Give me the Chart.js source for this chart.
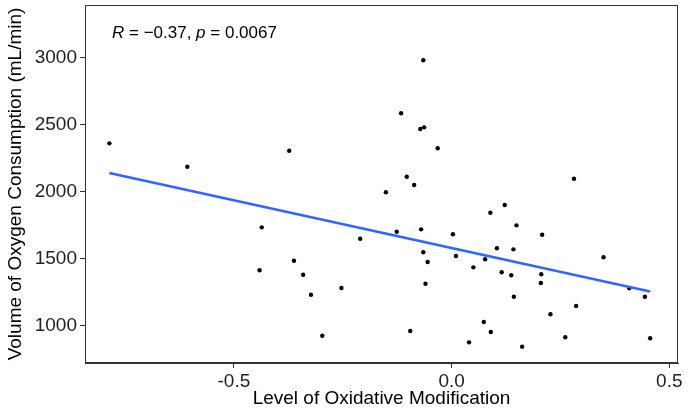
<!DOCTYPE html>
<html>
<head>
<meta charset="utf-8">
<script src="https://cdn.jsdelivr.net/npm/chart.js@4.4.1/dist/chart.umd.min.js"></script>
<style>
html,body{margin:0;padding:0;background:#fff;}
#wrap{width:693px;height:414px;position:relative;}
</style>
</head>
<body>
<div id="wrap"><canvas id="c" width="693" height="414"></canvas></div>
<script>
const oxidativeLevel = [
  -0.786, -0.607, -0.373, -0.065, -0.116, -0.072, -0.063, -0.032, -0.103, -0.086,
  -0.151, 0.281, 0.122, -0.436, -0.441, -0.362, -0.341, -0.323, -0.253, -0.297,
  -0.210, -0.126, -0.070, 0.003, 0.089, 0.149, 0.208, -0.065, -0.055, -0.060,
  0.010, 0.050, 0.077, 0.104, 0.142, 0.115, 0.137, 0.143, 0.206, 0.205,
  0.227, 0.286, 0.349, 0.408, 0.444, 0.456, 0.261, 0.162, 0.090, 0.074,
  0.040, -0.095
];
const oxygenConsumption = [
  2359, 2185, 2304, 2978, 2583, 2466, 2478, 2322, 2110, 2048,
  1994, 2095, 1899, 1733, 1413, 1484, 1380, 1231, 1281, 925,
  1648, 1700, 1718, 1681, 1842, 1748, 1678, 1547, 1475, 1313,
  1519, 1435, 1495, 1577, 1569, 1398, 1376, 1216, 1383, 1318,
  1085, 1147, 1510, 1279, 1216, 906, 914, 844, 953, 1028,
  876, 960
];
const xTicks = [-0.5, 0.0, 0.5];
const yTicks = [1000, 1500, 2000, 2500, 3000];
const xTitle = 'Level of Oxidative Modification';
const yTitle = 'Volume of Oxygen Consumption (mL/min)';
const corLabel = { r: '\u22120.37', p: '0.0067' };

// least-squares fit from the data
const n = oxidativeLevel.length;
const mx = oxidativeLevel.reduce((a,b)=>a+b,0)/n;
const my = oxygenConsumption.reduce((a,b)=>a+b,0)/n;
let sxy=0, sxx=0;
for (let i=0;i<n;i++){ sxy+=(oxidativeLevel[i]-mx)*(oxygenConsumption[i]-my); sxx+=(oxidativeLevel[i]-mx)**2; }
const slope = sxy/sxx, intercept = my - slope*mx;
const xmin = Math.min(...oxidativeLevel), xmax = Math.max(...oxidativeLevel);
const fitLine = [{x:xmin, y:intercept+slope*xmin},{x:xmax, y:intercept+slope*xmax}];

const points = oxidativeLevel.map((x,i)=>({x, y:oxygenConsumption[i]}));
const FONT = "'Liberation Sans', Arial, sans-serif";
const AXC = '#333333';

const framePlugin = {
  id:'frame',
  afterDraw(chart){
    const {ctx, chartArea:a} = chart;
    ctx.save();
    ctx.strokeStyle = AXC; ctx.lineWidth = 1;
    ctx.strokeRect(a.left+0.5, a.top+0.5, a.right-a.left-1, a.bottom-a.top-1);
    // annotation
    ctx.fillStyle = '#000';
    ctx.textBaseline = 'middle';
    let x = a.left + 27, y = a.top + 28;
    const parts = [
      ['italic', 'R'], ['normal', ' = ' + corLabel.r + ', '], ['italic', 'p'], ['normal', ' = ' + corLabel.p]
    ];
    for (const [st, t] of parts){
      ctx.font = st + ' 17px ' + FONT;
      ctx.fillText(t, x, y);
      x += ctx.measureText(t).width;
    }
    ctx.restore();
  }
};

new Chart(document.getElementById('c'), {
  type:'scatter',
  data:{
    datasets:[
      { type:'line', data:fitLine, borderColor:'#3366FF', borderWidth:2.6, pointRadius:0, fill:false, order:0 },
      { data:points, backgroundColor:'#000', borderColor:'#000', pointRadius:2.2, pointBorderWidth:0, order:1 }
    ]
  },
  options:{
    responsive:false, animation:false,
    layout:{ autoPadding:false, padding:{ top:5, right:15, left:0, bottom:0 } },
    plugins:{ legend:{display:false}, tooltip:{enabled:false} },
    scales:{
      x:{
        type:'linear', min:-0.842, max:0.52,
        afterBuildTicks(s){ s.ticks = xTicks.map(v=>({value:v})); },
        afterFit(s){ s.height = 51; s.paddingLeft = 0; s.paddingRight = 0; },
        ticks:{ callback:v=>Number(v).toFixed(1), color:'#222', font:{family:FONT,size:19}, padding:2, maxRotation:0 },
        grid:{ display:true, drawOnChartArea:false, drawTicks:true, tickLength:5, color:AXC },
        border:{ display:true, color:AXC },
        title:{ display:true, text:xTitle, color:'#000', font:{family:FONT,size:19}, padding:{top:0,bottom:4} }
      },
      y:{
        type:'linear', min:722, max:3390,
        afterBuildTicks(s){ s.ticks = yTicks.map(v=>({value:v})); },
        afterFit(s){ s.width = 85; s.paddingTop = 0; s.paddingBottom = 0; },
        ticks:{ callback:v=>String(v), color:'#222', font:{family:FONT,size:19}, padding:3 },
        grid:{ display:true, drawOnChartArea:false, drawTicks:true, tickLength:5, color:AXC },
        border:{ display:true, color:AXC },
        title:{ display:true, text:yTitle, color:'#000', font:{family:FONT,size:19}, padding:{top:4,bottom:0} }
      }
    }
  },
  plugins:[framePlugin]
});
</script>
</body>
</html>
